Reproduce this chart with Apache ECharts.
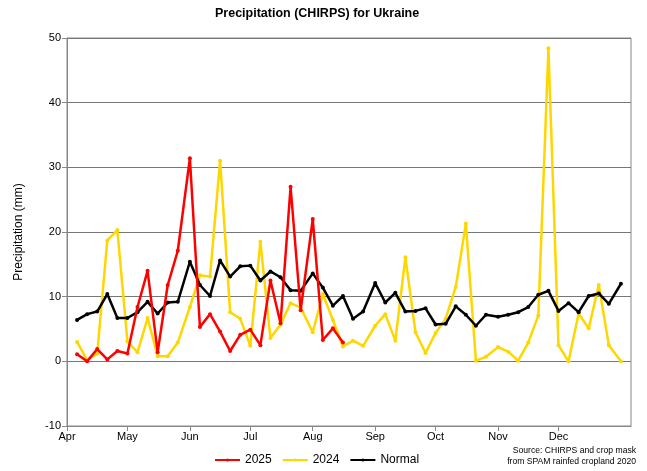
<!DOCTYPE html>
<html>
<head>
<meta charset="utf-8">
<script src="https://cdn.jsdelivr.net/npm/echarts@6/dist/echarts.min.js"></script>
<style>
  html, body { margin: 0; padding: 0; background: #fff; }
  #main { width: 647px; height: 471px; }
</style>
</head>
<body>
<div id="main"></div>
<script>
// months shown on the x axis (Apr..Dec), day offsets from Apr 1
var monthNames = ['Apr', 'May', 'Jun', 'Jul', 'Aug', 'Sep', 'Oct', 'Nov', 'Dec'];
var monthLengths = [30, 31, 30, 31, 31, 30, 31, 30, 31];

// pentad rainfall (mm), 6 pentads per month
var rain2025 = [
  1.1, 0.0, 1.9, 0.3, 1.6, 1.2,
  8.4, 14.0, 1.4, 11.8, 17.1, 31.4,
  5.3, 7.3, 4.6, 1.6, 4.1, 4.9,
  2.5, 12.5, 5.9, 27.0, 7.9, 22.0,
  3.3, 5.1, 2.9
];
var rain2024 = [
  3.0, 0.2, 1.2, 18.7, 20.3, 3.1,
  1.4, 6.7, 0.8, 0.8, 2.9, 8.4,
  13.3, 13.1, 31.0, 7.6, 6.6, 2.4,
  18.5, 3.6, 5.7, 9.0, 8.3, 4.5,
  10.4, 6.4, 2.3, 3.2, 2.4, 5.5,
  7.3, 3.2, 16.1, 4.5, 1.3, 4.4,
  6.6, 11.5, 21.3, 0.1, 0.7, 2.2,
  1.5, 0.1, 2.9, 7.1, 48.4, 2.5,
  0.0, 7.4, 5.1, 11.8, 2.5, 0.0
];
var rainNormal = [
  6.4, 7.3, 7.7, 10.4, 6.7, 6.7,
  7.6, 9.2, 7.4, 9.1, 9.2, 15.4,
  11.8, 10.1, 15.6, 13.1, 14.7, 14.8,
  12.5, 13.9, 13.0, 11.0, 10.9, 13.6,
  11.4, 8.6, 10.1, 6.6, 7.7, 12.1,
  9.1, 10.6, 7.7, 7.8, 8.2, 5.7,
  5.8, 8.5, 7.2, 5.5, 7.2, 6.9,
  7.2, 7.6, 8.4, 10.3, 10.9, 7.8,
  9.0, 7.6, 10.1, 10.5, 8.9, 12.0
];

// month starts and pentad end days (days since Apr 1)
var monthStarts = [];
var pentadDays = [];
var start = 0;
monthLengths.forEach(function (len) {
  monthStarts.push(start);
  [5, 10, 15, 20, 25, len].forEach(function (d) {
    pentadDays.push(start + d);
  });
  start += len;
});

function toPairs(values) {
  return values.map(function (v, i) { return [pentadDays[i], v]; });
}

var myChart = echarts.init(document.getElementById('main'));

function lineSeries(name, color, values, z) {
  return {
    name: name,
    type: 'line',
    data: toPairs(values),
    symbol: 'circle',
    symbolSize: 4,
    itemStyle: { color: color },
    lineStyle: { color: color, width: 2.5 },
    emphasis: { disabled: true },
    z: z
  };
}

var fontFamily = '"Liberation Sans", Arial, sans-serif';

var option = {
  animation: false,
  textStyle: { fontFamily: fontFamily },
  title: {
    text: 'Precipitation (CHIRPS) for Ukraine',
    left: 210,
    top: 2,
    textStyle: { fontSize: 12.5, fontWeight: 'bold', color: '#000', fontFamily: fontFamily }
  },
  grid: {
    left: 67,
    right: 16,
    top: 38,
    bottom: 45,
    show: true,
    borderColor: '#888',
    borderWidth: 1
  },
  xAxis: {
    type: 'value',
    min: 0,
    max: 280,
    splitLine: { show: false },
    axisLine: { onZero: false, lineStyle: { color: '#888' } },
    axisTick: { customValues: monthStarts, length: 5, lineStyle: { color: '#888' } },
    axisLabel: {
      customValues: monthStarts,
      color: '#000',
      fontSize: 11,
      margin: 5,
      formatter: function (v) { return monthNames[monthStarts.indexOf(v)]; }
    }
  },
  yAxis: {
    type: 'value',
    min: -10,
    max: 50,
    interval: 10,
    name: 'Precipitation (mm)',
    nameLocation: 'middle',
    nameGap: 42,
    nameTextStyle: { fontSize: 12, color: '#000' },
    axisLine: { show: true, lineStyle: { color: '#888' } },
    axisTick: { show: true, length: 5, lineStyle: { color: '#888' } },
    axisLabel: { color: '#000', fontSize: 11, margin: 6 },
    splitLine: { lineStyle: { color: '#777', width: 1 } }
  },
  legend: {
    bottom: 0,
    left: 209,
    itemWidth: 25,
    itemHeight: 4,
    itemGap: 10,
    textStyle: { fontSize: 12, color: '#000' },
    data: ['2025', '2024', 'Normal']
  },
  graphic: [
    {
      type: 'text',
      right: 11,
      bottom: 16,
      style: { text: 'Source: CHIRPS and crop mask', fill: '#000', font: '8.6px ' + fontFamily }
    },
    {
      type: 'text',
      right: 11,
      bottom: 5,
      style: { text: 'from SPAM rainfed cropland 2020', fill: '#000', font: '8.6px ' + fontFamily }
    }
  ],
  series: [
    lineSeries('2025', '#ff0000', rain2025, 4),
    lineSeries('2024', '#ffd700', rain2024, 2),
    lineSeries('Normal', '#000000', rainNormal, 3)
  ]
};

myChart.setOption(option);
</script>
</body>
</html>
